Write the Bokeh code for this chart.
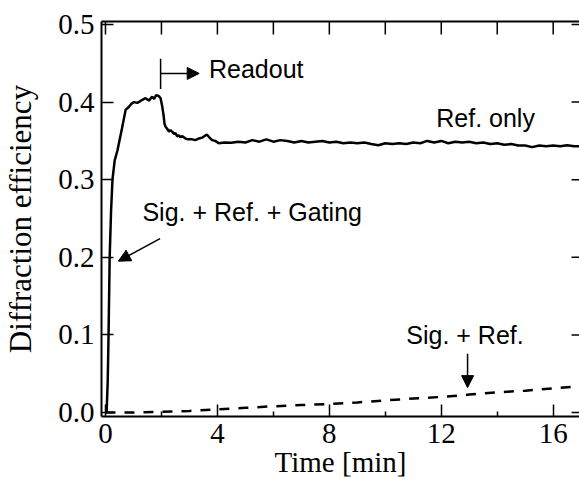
from bokeh.plotting import figure
from bokeh.models import (Range1d, FixedTicker, LinearAxis, PrintfTickFormatter,
                          Arrow, NormalHead, Label)
from bokeh.embed import file_html
from bokeh.resources import INLINE

# ---- data ----
t_gating = [0.0, 0.04, 0.08, 0.11, 0.15, 0.2, 0.25, 0.33, 0.43, 0.6, 0.72, 0.84, 0.93,
            1.02, 1.14, 1.23, 1.32, 1.43, 1.55, 1.67, 1.74, 1.81, 1.9, 1.97, 2.03, 2.08,
            2.11, 2.15, 2.2, 2.27, 2.32, 2.38, 2.45, 2.5, 2.56, 2.62, 2.68, 2.75, 2.86,
            2.95, 3.1, 3.21, 3.33, 3.45, 3.57, 3.63, 3.7, 3.81, 3.92, 4.05,
            4.25, 4.5, 4.75, 5.0, 5.25, 5.5, 5.75, 6.0, 6.25, 6.5, 6.75, 7.0, 7.25, 7.5,
            7.75, 8.0, 8.25, 8.5, 8.75, 9.0, 9.25, 9.5, 9.75, 10.0, 10.25, 10.5, 10.75,
            11.0, 11.25, 11.5, 11.75, 12.0, 12.25, 12.5, 12.75, 13.0, 13.25, 13.5, 13.75,
            14.0, 14.25, 14.5, 14.75, 15.0, 15.25, 15.5, 15.75, 16.0, 16.25, 16.5, 16.75,
            17.0]
eff_gating = [0.0, 0.0, 0.04, 0.1, 0.2, 0.26, 0.30, 0.325, 0.338, 0.368, 0.39, 0.394, 0.398,
              0.400, 0.399, 0.401, 0.403, 0.405, 0.402, 0.407, 0.404, 0.409, 0.408, 0.405,
              0.394, 0.382, 0.372, 0.368, 0.366, 0.362, 0.364, 0.362, 0.359, 0.360, 0.356,
              0.357, 0.355, 0.356, 0.353, 0.352, 0.352, 0.351, 0.353, 0.354, 0.357, 0.358,
              0.355, 0.351, 0.350, 0.347,
              0.348, 0.3475, 0.349, 0.348, 0.351, 0.349, 0.352, 0.349, 0.351, 0.350, 0.348,
              0.350, 0.348, 0.349, 0.350, 0.348, 0.349, 0.347, 0.348, 0.347, 0.348, 0.346,
              0.3445, 0.347, 0.346, 0.347, 0.346, 0.348, 0.347, 0.350, 0.348, 0.350, 0.347,
              0.349, 0.348, 0.349, 0.347, 0.348, 0.346, 0.347, 0.345, 0.346, 0.344, 0.344,
              0.342, 0.344, 0.343, 0.344, 0.343, 0.3445, 0.343, 0.343]

t_sigref = [0.0, 1.0, 2.0, 3.0, 4.0, 5.0, 6.0, 7.0, 8.0, 9.0, 10.0, 11.0, 12.0, 13.0,
            14.0, 15.0, 16.0, 17.0]
eff_sigref = [0.0, 0.0, 0.001, 0.002, 0.004, 0.006, 0.008, 0.0095, 0.011, 0.013, 0.0155,
              0.018, 0.020, 0.023, 0.026, 0.028, 0.031, 0.034]

x_ticks = [0, 4, 8, 12, 16]
x_minor = [2, 6, 10, 14]
y_ticks = [0.0, 0.1, 0.2, 0.3, 0.4, 0.5]

SERIF = "Liberation Serif"
SANS = "Liberation Sans"

X0, X1 = -0.142, 16.94
Y0, Y1 = -0.0052, 0.5039
W, H = 579, 495
BL, BT, BB = 99, 21, 79
FW, FH = W - BL, H - BT - BB

p = figure(width=W, height=H, output_backend="svg", toolbar_location=None,
           x_axis_type=None, y_axis_type=None,
           x_range=Range1d(X0, X1), y_range=Range1d(Y0, Y1),
           min_border_left=BL, min_border_right=0, min_border_top=BT, min_border_bottom=BB)
p.outline_line_color = None
p.xgrid.visible = False
p.ygrid.visible = False
p.background_fill_color = "white"
p.border_fill_color = "white"

def style_axis(ax, major_in, minor_in):
    ax.axis_line_color = "black"
    ax.axis_line_width = 2
    ax.major_tick_line_color = "black"
    ax.major_tick_line_width = 1.5
    ax.minor_tick_line_color = "black"
    ax.minor_tick_line_width = 1.5
    ax.major_tick_in = major_in
    ax.major_tick_out = 0
    ax.minor_tick_in = minor_in
    ax.minor_tick_out = 0

# bottom
xb = LinearAxis(ticker=FixedTicker(ticks=x_ticks, minor_ticks=x_minor))
style_axis(xb, 12, 5)
xb.major_label_text_font = SERIF
xb.major_label_text_font_size = "29px"
xb.major_label_text_color = "black"
xb.major_label_standoff = 7
xb.axis_label = "Time [min]"
xb.axis_label_text_font = SERIF
xb.axis_label_text_font_size = "29px"
xb.axis_label_text_font_style = "normal"
xb.axis_label_text_color = "black"
xb.axis_label_standoff = 0
p.add_layout(xb, "below")

# left
yl = LinearAxis(ticker=FixedTicker(ticks=y_ticks, minor_ticks=[]),
                formatter=PrintfTickFormatter(format="%.1f"))
style_axis(yl, 12, 0)
yl.major_label_text_font = SERIF
yl.major_label_text_font_size = "29px"
yl.major_label_text_color = "black"
yl.major_label_standoff = 7
yl.axis_label = "Diffraction efficiency"
yl.axis_label_text_font = SERIF
yl.axis_label_text_font_size = "31px"
yl.axis_label_text_font_style = "normal"
yl.axis_label_text_color = "black"
yl.axis_label_standoff = 17
p.add_layout(yl, "left")

# top frame line (axis with no ticks or labels)
xt = LinearAxis(ticker=FixedTicker(ticks=[], minor_ticks=[]))
style_axis(xt, 0, 0)
p.add_layout(xt, "above")

# top and right inward ticks (the right frame edge lies just outside the picture)
dx = (X1 - X0) / FW
dy = (Y1 - Y0) / FH
top_ticks = sorted(x_ticks + x_minor)
p.segment(x0=top_ticks, y0=[Y1] * len(top_ticks), x1=top_ticks,
          y1=[Y1 - 13 * dy] * len(top_ticks), line_color="black", line_width=1.5)
p.segment(x0=[X1 - 8 * dx] * len(y_ticks), y0=y_ticks, x1=[X1 + 1] * len(y_ticks),
          y1=y_ticks, line_color="black", line_width=1.5)

# curves
p.line(t_gating, eff_gating, line_color="black", line_width=2.5)
p.line(t_sigref, eff_sigref, line_color="black", line_width=2.5, line_dash="10 9")

# annotations
p.segment(x0=[1.97], y0=[0.417], x1=[1.97], y1=[0.456], line_color="black", line_width=1.5)
head = dict(size=12, fill_color="black", line_color="black")
p.add_layout(Arrow(x_start=1.97, y_start=0.437, x_end=3.35, y_end=0.437,
                   line_color="black", line_width=1.5, end=NormalHead(**head)))
p.add_layout(Arrow(x_start=1.95, y_start=0.224, x_end=0.46, y_end=0.195,
                   line_color="black", line_width=1.5, end=NormalHead(**head)))
p.add_layout(Arrow(x_start=12.94, y_start=0.0757, x_end=12.94, y_end=0.032,
                   line_color="black", line_width=1.5, end=NormalHead(**head)))

def lab(x, y, txt):
    p.add_layout(Label(x=x, y=y, text=txt, text_font=SANS, text_font_size="25px",
                       text_color="black", text_baseline="alphabetic", text_align="left"))

lab(3.7, 0.4426, "Readout")
lab(11.82, 0.3796, "Ref. only")
lab(1.32, 0.2584, "Sig. + Ref. + Gating")
lab(10.75, 0.1002, "Sig. + Ref.")

open("out.html", "w").write(file_html(p, INLINE))
